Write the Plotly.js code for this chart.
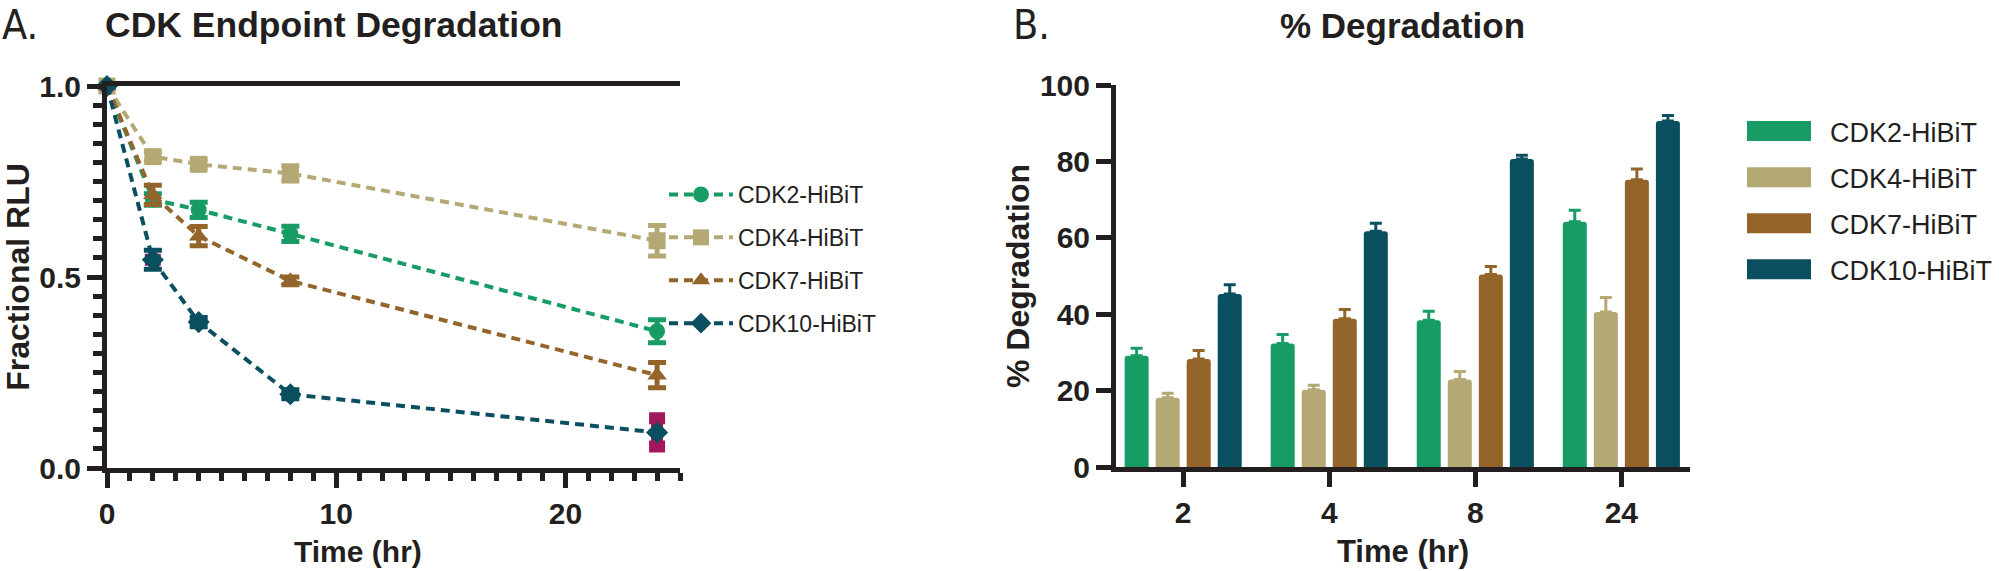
<!DOCTYPE html>
<html><head><meta charset="utf-8">
<script src="https://cdn.plot.ly/plotly-3.0.1.min.js"></script>
<style>html,body{margin:0;padding:0;background:#fff}</style>
</head><body><div id="chart" style="width:1999px;height:571px"></div>
<script>
// ---------- Panel A data ----------
const timeHr = [0, 2, 4, 8, 24];
const seriesNames = ['CDK2-HiBiT', 'CDK4-HiBiT', 'CDK7-HiBiT', 'CDK10-HiBiT'];
const cdk2Rlu = [1.0, 0.703, 0.676, 0.613, 0.358];
const cdk2RluErr = [0, 0.015, 0.02, 0.02, 0.03];
const cdk4Rlu = [1.0, 0.815, 0.795, 0.771, 0.595];
const cdk4RluErr = [0, 0.012, 0.012, 0.02, 0.04];
const cdk7Rlu = [1.0, 0.715, 0.607, 0.49, 0.243];
const cdk7RluErr = [0, 0.025, 0.025, 0.01, 0.033];
const cdk10Rlu = [1.0, 0.545, 0.382, 0.193, 0.093];
const cdk10RluErr = [0, 0.025, 0.012, 0.012, 0];
const cdk10HighlightErr = [null, null, null, null, 0.037];

// ---------- Panel B data ----------
const barTimeLabels = ['2', '4', '8', '24'];
const cdk2Deg = [29.1, 32.3, 38.4, 64.2];
const cdk2DegErr = [2.0, 2.4, 2.4, 3.0];
const cdk4Deg = [18.1, 20.2, 22.9, 40.6];
const cdk4DegErr = [1.2, 1.2, 2.1, 3.8];
const cdk7Deg = [28.3, 38.8, 50.4, 75.2];
const cdk7DegErr = [2.2, 2.4, 2.1, 2.8];
const cdk10Deg = [45.3, 61.7, 80.6, 90.6];
const cdk10DegErr = [2.4, 2.1, 1.0, 1.4];
const noMinusErr = [0, 0, 0, 0];

// ---------- styles ----------
const colors = ['#179C65', '#B4A874', '#94652A', '#0A4F60'];
const highlightColor = '#A3185A';
const ink = '#231F20';
const W = 1999, H = 571;
const px = p => p / W;
const py = p => 1 - p / H;
const boldFont = {family: 'Liberation Sans, Arial, sans-serif', weight: 'bold', color: ink};
const narrowFont = 'Liberation Sans Narrow, Arial Narrow, DejaVu Sans Condensed, Liberation Sans, sans-serif';

const symbols = ['circle', 'square', 'triangle-up', 'diamond'];
const rluSeries = [cdk2Rlu, cdk4Rlu, cdk7Rlu, cdk10Rlu];
const rluErrs = [cdk2RluErr, cdk4RluErr, cdk7RluErr, cdk10RluErr];
const degSeries = [cdk2Deg, cdk4Deg, cdk7Deg, cdk10Deg];
const degErrs = [cdk2DegErr, cdk4DegErr, cdk7DegErr, cdk10DegErr];

const traces = [];
// highlighted error bar under CDK10 at 24 h
traces.push({
  type: 'scatter', mode: 'markers', x: timeHr, y: cdk10Rlu,
  xaxis: 'x', yaxis: 'y', showlegend: false, hoverinfo: 'skip',
  marker: {size: 1, opacity: 0, color: highlightColor},
  error_y: {type: 'data', array: cdk10HighlightErr, visible: true, color: highlightColor, thickness: 12, width: 8},
  cliponaxis: false
});
seriesNames.forEach((name, i) => {
  traces.push({
    type: 'scatter', mode: 'lines+markers', name: name,
    x: timeHr, y: rluSeries[i], xaxis: 'x', yaxis: 'y',
    legend: 'legend', legendgroup: 'a' + i,
    line: {color: colors[i], width: 4, dash: '9px,6px'},
    marker: {symbol: symbols[i], size: symbols[i] === 'circle' ? 16 : 17, color: colors[i]},
    error_y: {type: 'data', array: rluErrs[i], visible: true, color: colors[i], thickness: 5, width: 9},
    cliponaxis: false
  });
});
seriesNames.forEach((name, i) => {
  traces.push({
    type: 'bar', name: name, x: barTimeLabels, y: degSeries[i],
    xaxis: 'x2', yaxis: 'y2', legend: 'legend2', legendgroup: 'b' + i,
    marker: {color: colors[i], line: {width: 0}, cornerradius: 3},
    error_y: {type: 'data', symmetric: false, array: degErrs[i], arrayminus: noMinusErr,
              visible: true, color: colors[i], thickness: 3, width: 6}
  });
});

const axisCommon = {
  showgrid: false, zeroline: false, showline: true, linecolor: ink, linewidth: 5,
  ticks: 'outside', ticklen: 15, tickwidth: 5, tickcolor: ink,
  tickfont: Object.assign({size: 30}, boldFont), automargin: false, fixedrange: true
};

const layout = {
  width: W, height: H, margin: {l: 0, r: 0, t: 0, b: 0},
  paper_bgcolor: '#fff', plot_bgcolor: '#fff', showlegend: true,
  barmode: 'group', bargap: 0.15, bargroupgap: 0.226,
  xaxis: Object.assign({}, axisCommon, {
    anchor: 'y', domain: [px(107), px(680)], range: [0, 25], dtick: 10, tick0: 0, mirror: true,
    minor: {dtick: 1, ticklen: 8, tickwidth: 5, tickcolor: ink, ticks: 'outside'}
  }),
  yaxis: Object.assign({}, axisCommon, {
    anchor: 'x', domain: [py(468), py(86)], range: [0, 1], dtick: 0.5, tick0: 0, tickformat: '.1f',
    minor: {dtick: 0.05, ticklen: 9, tickwidth: 5, tickcolor: ink, ticks: 'outside'},
    title: {text: 'Fractional RLU', font: Object.assign({size: 32}, boldFont), standoff: 17}
  }),
  xaxis2: Object.assign({}, axisCommon, {
    anchor: 'y2', domain: [px(1116), px(1690)], range: [-0.46, 3.47], type: 'category',
    title: {text: 'Time (hr)', font: Object.assign({size: 31}, boldFont), standoff: 14}
  }),
  yaxis2: Object.assign({}, axisCommon, {
    anchor: 'x2', domain: [py(467), py(85)], range: [0, 100], dtick: 20, tick0: 0,
    title: {text: '% Degradation', font: Object.assign({size: 32}, boldFont), standoff: 2}
  }),
  legend: {
    x: px(664), y: py(173), xanchor: 'left', yanchor: 'top',
    bgcolor: 'rgba(0,0,0,0)', borderwidth: 0, itemwidth: 64,
    traceorder: 'grouped', tracegroupgap: 10,
    font: {family: 'Liberation Sans, Arial, sans-serif', size: 23, color: ink},
    itemclick: false, itemdoubleclick: false
  },
  legend2: {
    x: px(1728), y: py(107), xanchor: 'left', yanchor: 'top',
    bgcolor: 'rgba(0,0,0,0)', borderwidth: 0, itemwidth: 92,
    traceorder: 'grouped', tracegroupgap: 8,
    font: {family: 'Liberation Sans, Arial, sans-serif', size: 27, color: ink},
    itemclick: false, itemdoubleclick: false
  },
  annotations: [
    {text: 'A.', xref: 'paper', yref: 'paper', x: 0, y: py(25), xanchor: 'left', yanchor: 'middle',
     showarrow: false, font: {family: narrowFont, size: 41, color: ink}},
    {text: 'CDK Endpoint Degradation', xref: 'paper', yref: 'paper', x: px(334), y: py(25),
     xanchor: 'center', yanchor: 'middle', showarrow: false, font: Object.assign({size: 35.5}, boldFont)},
    {text: 'B.', xref: 'paper', yref: 'paper', x: px(1011), y: py(25), xanchor: 'left', yanchor: 'middle',
     showarrow: false, font: {family: narrowFont, size: 41, color: ink}},
    {text: '% Degradation', xref: 'paper', yref: 'paper', x: px(1402), y: py(25),
     xanchor: 'center', yanchor: 'middle', showarrow: false, font: Object.assign({size: 35}, boldFont)},
    {text: 'Time (hr)', xref: 'paper', yref: 'paper', x: px(358), y: py(551),
     xanchor: 'center', yanchor: 'middle', showarrow: false, font: Object.assign({size: 30}, boldFont)}
  ]
};

function widenBarSwatches(gd) {
  gd.querySelectorAll('g.legend2 g.legendpoints path').forEach(p => p.setAttribute('d', 'M32,10H-32V-10H32Z'));
}
Plotly.newPlot('chart', traces, layout, {displayModeBar: false, staticPlot: true}).then(gd => {
  widenBarSwatches(gd);
  gd.on('plotly_afterplot', () => widenBarSwatches(gd));
});
</script></body></html>
